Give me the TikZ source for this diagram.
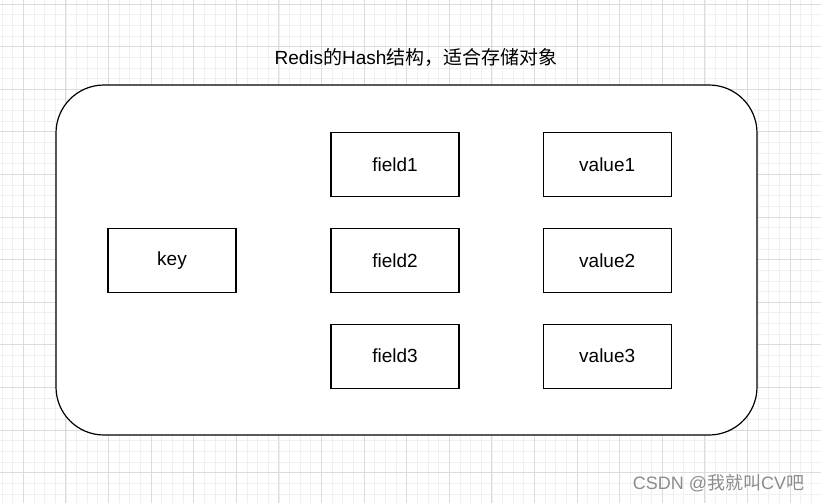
\documentclass[tikz,border=0pt]{standalone}
\usepackage{fontspec}
\setmainfont{Liberation Sans}
\newfontfamily\cjk{Noto Sans CJK SC}
\usetikzlibrary{positioning}
\definecolor{gridmajor}{RGB}{220,220,220}
\definecolor{gridminor}{RGB}{240,240,240}

\begin{document}
\begin{tikzpicture}[x=1pt,y=-1pt,
  box/.style={draw,line width=1.2pt,fill=white,minimum width=128pt,minimum height=64pt,inner sep=0pt,font=\fontsize{19}{22}\selectfont}]
\useasboundingbox (0,0) rectangle (821,503);
\fill[white] (0,0) rectangle (821,503);
% grid
\foreach \i in {0,...,77} {\draw[gridminor,line width=0.8pt] ({2+10.65*\i},0)--++(0,503);}
\foreach \j in {0,...,47} {\draw[gridminor,line width=0.8pt] (0,{4+10.65*\j})--++(821,0);}
\foreach \i in {0,...,19} {\draw[gridmajor,line width=0.9pt] ({23.3+42.6*\i},0)--++(0,503);}
\foreach \j in {0,...,11} {\draw[gridmajor,line width=0.9pt] (0,{4+42.6*\j})--++(821,0);}
\node[font=\fontsize{19}{22}\selectfont] (title) at (416,57) {Redis{\cjk 的}Hash{\cjk 结构，适合存储对象}};
\node[draw,line width=1.2pt,fill=white,rounded corners=48pt,minimum width=701pt,minimum height=350pt] (hash) at (406.5,260) {};
\node[box] (key) at (172,260.5) {key};
\node[box,right=93.8pt of key] (field2) {field2};\node[box,above=31pt of field2] (field1) {field1};\node[box,below=30.5pt of field2] (field3) {field3};
\node[box,right=83pt of field2] (value2) {value2};\node[box,above=31pt of value2] (value1) {value1};\node[box,below=30.5pt of value2] (value3) {value3};
\node[text=gray!90,font=\fontsize{18}{21}\selectfont] (mark) at (718.5,483) {CSDN @{\cjk 我就叫}CV{\cjk 吧}};
\end{tikzpicture}
\end{document}
